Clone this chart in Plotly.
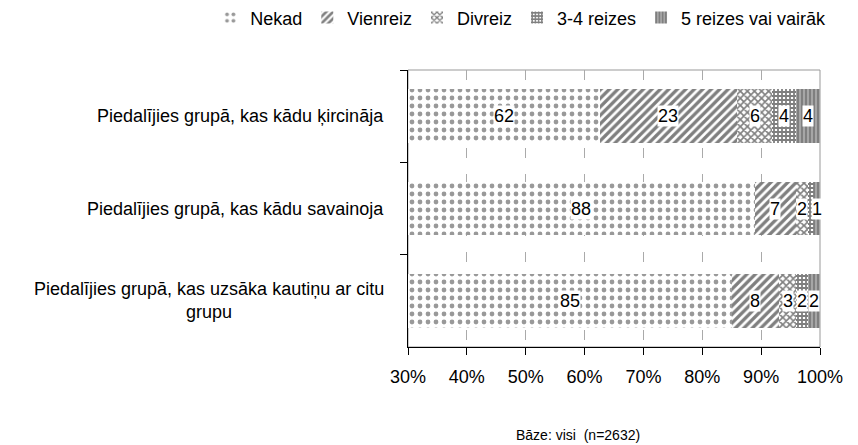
import plotly.graph_objects as go

categories = [
    "Piedalījies grupā, kas kādu ķircināja",
    "Piedalījies grupā, kas kādu savainoja",
    "Piedalījies grupā, kas uzsāka kautiņu ar citu<br>grupu",
]
series_names = ["Nekad", "Vienreiz", "Divreiz", "3-4 reizes", "5 reizes vai vairāk"]
nekad = [62, 88, 85]
vienreiz = [23, 7, 8]
divreiz = [6, 2, 3]
reizes_3_4 = [4, 1, 2]
reizes_5 = [4, 1, 2]
x_ticks = [30, 40, 50, 60, 70, 80, 90, 100]
x_tick_text = ["30%", "40%", "50%", "60%", "70%", "80%", "90%", "100%"]
footer = "Bāze: visi  (n=2632)"

series = [nekad, vienreiz, divreiz, reizes_3_4, reizes_5]
patterns = [
    dict(shape=".", fgcolor="#333333", bgcolor="white", size=8, solidity=0.28, fillmode="overlay"),
    dict(shape="/", fgcolor="#000000", bgcolor="white", size=6, solidity=0.55, fillmode="overlay"),
    dict(shape="x", fgcolor="#000000", bgcolor="white", size=5, solidity=0.55, fillmode="overlay"),
    dict(shape="+", fgcolor="#000000", bgcolor="white", size=4, solidity=0.7, fillmode="overlay"),
    dict(shape="|", fgcolor="#000000", bgcolor="white", size=4, solidity=0.85, fillmode="overlay"),
]

FONT = "Liberation Sans, Arial, sans-serif"
fig = go.Figure()
for name, vals, pat in zip(series_names, series, patterns):
    fig.add_trace(go.Bar(
        y=categories, x=vals, name=name, orientation="h",
        marker=dict(color="white", pattern=pat, line=dict(width=0)),
        hoverinfo="x+y+name",
    ))

# data labels (white boxes) at the middle of the visible part of each segment;
# a label that would collide with the label to its right is skipped
xmin = x_ticks[0]
min_gap = 1.5
for i, cat in enumerate(categories):
    vals = [s[i] if s[i] is not None else 0 for s in series]
    total = sum(vals)
    cum = 0.0
    labels = []
    for v in vals:
        if v:
            start = cum / total * 100
            end = (cum + v) / total * 100
            labels.append(((max(start, xmin) + end) / 2, v))
        cum += v
    kept = []
    last = None
    for mid, v in reversed(labels):
        if last is None or last - mid >= min_gap:
            kept.append((mid, v))
            last = mid
    for mid, v in kept:
        fig.add_annotation(x=mid, y=cat, xref="x", yref="y", text=str(v),
                           showarrow=False, bgcolor="white", borderpad=0,
                           font=dict(size=18, color="black", family=FONT))

# category labels
for cat in categories:
    fig.add_annotation(x=0, y=cat, xref="paper", yref="y", text=cat,
                       xanchor="right", align="center", xshift=-22, showarrow=False,
                       font=dict(size=18, color="black", family=FONT))

fig.add_annotation(x=0.413, y=-0.318, xref="paper", yref="paper", text=footer,
                   showarrow=False, xanchor="center", yanchor="middle",
                   font=dict(size=14, color="black", family=FONT))

fig.add_shape(type="rect", xref="paper", yref="paper", x0=0, x1=1, y0=0, y1=1,
              line=dict(color="#999999", width=1), layer="below")

fig.update_layout(
    width=850, height=437,
    margin=dict(l=400, r=38, t=62, b=98, autoexpand=False),
    barmode="stack", barnorm="percent", bargap=0.42,
    plot_bgcolor="white", paper_bgcolor="white",
    font=dict(family=FONT, size=18, color="black"),
    showlegend=True,
    legend=dict(orientation="h", x=-0.48, xanchor="left", y=1.188, yanchor="middle",
                font=dict(size=18), itemwidth=30, traceorder="normal"),
)
fig.update_xaxes(range=[30, 100], tickvals=x_ticks, ticktext=x_tick_text,
                 showline=True, linecolor="black", linewidth=1,
                 ticks="outside", ticklen=7, tickcolor="black",
                 showgrid=True, gridcolor="#aaaaaa", griddash="10px,16px", gridwidth=1,
                 zeroline=False, tickfont=dict(size=18), ticklabelstandoff=6)
fig.update_yaxes(autorange="reversed", showticklabels=False, showline=True,
                 linecolor="black", linewidth=1, ticks="outside", ticklen=7,
                 tickcolor="black", tickson="boundaries", showgrid=False)

fig.write_html("out.html")
